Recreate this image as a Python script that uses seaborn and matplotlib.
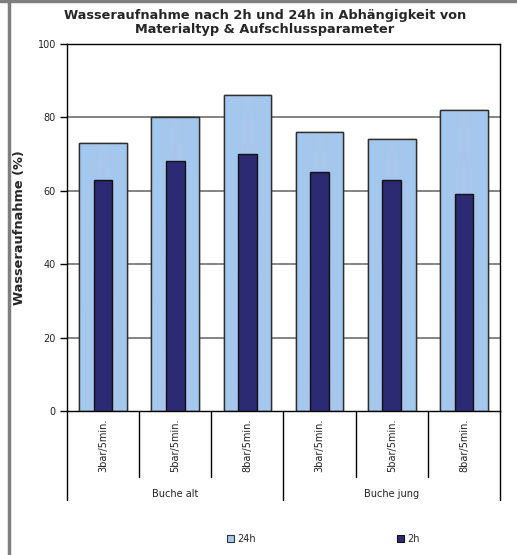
import numpy as np
import pandas as pd
import matplotlib
matplotlib.use("Agg")
import matplotlib.pyplot as plt
from matplotlib.patches import Patch, Rectangle
from matplotlib.lines import Line2D
import seaborn as sns

# Data
groups = ["Buche alt", "Buche jung"]
params = ["3bar/5min.", "5bar/5min.", "8bar/5min.", "3bar/5min.", "5bar/5min.", "8bar/5min."]
wa_24h = [73, 80, 86, 76, 74, 82]
wa_2h = [63, 68, 70, 65, 63, 59]
y_ticks = [0, 20, 40, 60, 80, 100]

sns.set_theme(style="white")
plt.rcParams["font.family"] = ["DejaVu Sans"]

slots = [f"s{i}" for i in range(len(params))]
df = pd.DataFrame({"slot": slots, "24h": wa_24h, "2h": wa_2h})

fig = plt.figure(figsize=(5.17, 5.55), dpi=100)
ax = fig.add_axes([67 / 517, 1 - 411 / 555, 433 / 517, 367 / 555])

light = "#A5C9EC"
dark = "#2B2A72"
edge = "#2E2E2E"

# gridlines behind bars
for v in y_ticks[1:-1]:
    ax.axhline(v, color="#7A7A7A", lw=1.3, zorder=0)

sns.barplot(data=df, x="slot", y="24h", order=slots, color=light, width=0.66,
            saturation=1, edgecolor=edge, linewidth=1.0, ax=ax, zorder=2)
n_light = len(ax.patches)
sns.barplot(data=df, x="slot", y="2h", order=slots, color=dark, width=0.26,
            saturation=1, edgecolor="#111111", linewidth=1.0, ax=ax, zorder=4)

# soft gradient fill inside the light bars
grad = np.linspace(0, 1, 64)
hx = 1 - np.abs(grad - 0.5) * 2  # 0 at edges, 1 at centre
vy = np.linspace(0, 1, 64)[:, None]
mix = np.clip(0.6 * hx[None, :] * (0.4 + 0.6 * (1 - vy)), 0, 1)
c_edge = np.array(matplotlib.colors.to_rgb("#A2C8EE"))
c_mid = np.array(matplotlib.colors.to_rgb("#BAC4E6"))
img = c_edge[None, None, :] * (1 - mix[..., None]) + c_mid[None, None, :] * mix[..., None]
for p in ax.patches[:n_light]:
    x0, y0 = p.get_x(), p.get_y()
    w, h = p.get_width(), p.get_height()
    im = ax.imshow(img, extent=(x0, x0 + w, y0, y0 + h), origin="lower",
                   aspect="auto", zorder=2.5, interpolation="bilinear")
    im.set_clip_path(p)
    ax.add_patch(Rectangle((x0, y0), w, h, fill=False, edgecolor=edge,
                           lw=1.0, zorder=3))

ax.set_xlim(-0.5, len(params) - 0.5)
ax.set_ylim(0, 100)
ax.set_yticks(y_ticks)
ax.set_yticklabels([str(v) for v in y_ticks], fontsize=7, color="#222222")
ax.tick_params(axis="y", direction="out", length=5, width=1, color="black", pad=3, left=True)
ax.set_xticks([])
ax.set_xlabel("")
ax.set_ylabel("Wasseraufnahme (%)", fontsize=9.3, fontweight="bold", labelpad=8)
for s in ax.spines.values():
    s.set_color("black")
    s.set_linewidth(1.0)
    s.set_visible(True)

# category axis below the plot
trans = ax.get_xaxis_transform()
def ypix(py):
    return (411 - py) / 367.0

for i, lab in enumerate(params):
    ax.text(i, ypix(419), lab, rotation=90, ha="center", va="top", fontsize=7,
            color="#222222", transform=trans, clip_on=False)
for b in range(1, len(params)):
    if b % 3 == 0:
        continue
    ax.add_line(Line2D([b - 0.5, b - 0.5], [0, ypix(477)], color="black", lw=1,
                       transform=trans, clip_on=False))
for b in [0, 3, 6]:
    ax.add_line(Line2D([b - 0.5, b - 0.5], [0, ypix(500)], color="black", lw=1,
                       transform=trans, clip_on=False))
for g, name in enumerate(groups):
    ax.text(g * 3 + 1, ypix(494), name, ha="center", va="center", fontsize=7,
            color="#222222", transform=trans, clip_on=False)

# title
fig.text(265 / 517, 1 - 22 / 555,
         "Wasseraufnahme nach 2h und 24h in Abhängigkeit von\nMaterialtyp & Aufschlussparameter",
         ha="center", va="center", fontsize=9.3, fontweight="bold", linespacing=1.1)

# legend
handles = [Patch(facecolor=light, edgecolor="#333333", lw=0.8, label="24h"),
           Patch(facecolor=dark, edgecolor="#111111", lw=0.8, label="2h")]
fig.legend(handles=handles, loc="center", bbox_to_anchor=(323 / 517, 1 - 539 / 555),
           ncol=2, frameon=False, fontsize=7, handlelength=0.75, handleheight=0.75,
           handletextpad=0.3, columnspacing=14.5)

# grey figure border on left and top
fig.add_artist(Line2D([9 / 517, 9 / 517], [0, 1], color="#7F7F7F", lw=2.5,
                      transform=fig.transFigure))
fig.add_artist(Line2D([0, 1], [1 - 1 / 555, 1 - 1 / 555], color="#7F7F7F", lw=2.5,
                      transform=fig.transFigure))

fig.savefig("out.png", dpi=100, facecolor="white")
